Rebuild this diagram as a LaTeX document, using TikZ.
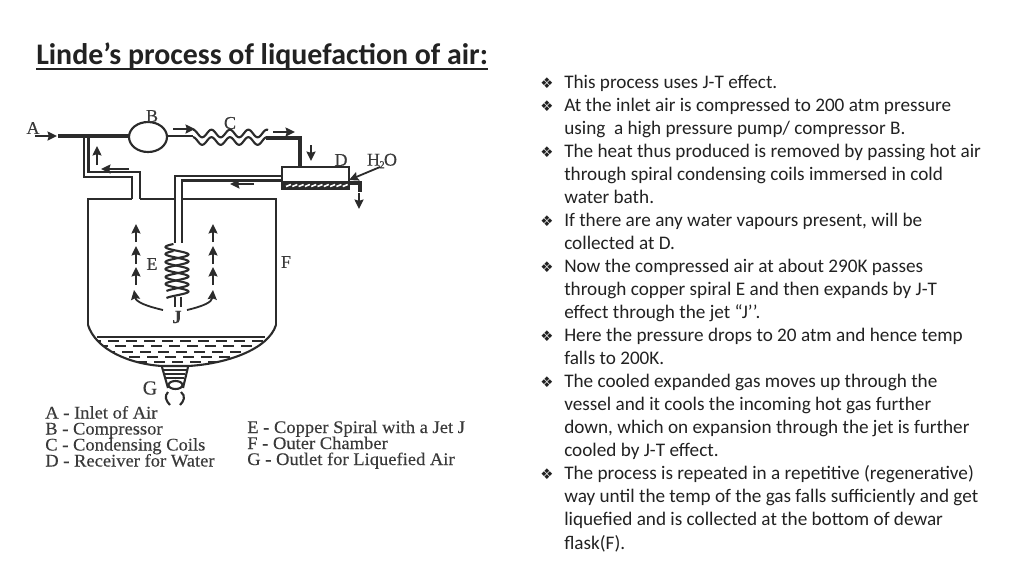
\documentclass[tikz,border=0pt]{standalone}
\usepackage{fontspec}
\setmainfont{Carlito}
\newfontfamily\legendfont[FakeBold=0.3]{Liberation Serif}
\newfontfamily\keyfont[FakeBold=0.3,FakeStretch=1.045]{Liberation Serif}
\newfontfamily\symfont{DejaVu Sans}
\usetikzlibrary{arrows.meta,shapes.geometric}
\definecolor{ink}{HTML}{2B2B2B}
\definecolor{txt}{HTML}{222222}
\definecolor{soft}{HTML}{3A3A3A}
\tikzset{
  pipe/.style={draw=ink,line width=2.1*0.75pt},
  thin pipe/.style={draw=ink,line width=1.6*0.75pt},
  heavy/.style={draw=ink,line width=3.8*0.75pt},
  flow/.style={draw=ink,line width=1.8*0.75pt,-{Stealth[length=9.5pt*0.75,width=9pt*0.75,inset=1pt]}},
  fig/.style={font=\legendfont\fontsize{13.5}{13.5}\selectfont,text=soft,inner sep=0pt},
  legend/.style={font=\keyfont\fontsize{13.3}{13.3}\selectfont,text=soft,inner sep=0pt,anchor=base west},
  body/.style={font=\fontsize{14.4}{14.4}\selectfont,text=txt,inner sep=0pt,anchor=base west},
  bul/.style={font=\symfont\fontsize{11}{11}\selectfont,text=txt,inner sep=0pt,anchor=base west},
}
\begin{document}
\begin{tikzpicture}[x=0.75pt,y=-0.75pt]
\useasboundingbox[fill=white] (0,0) rectangle (1024,576);
% title
\node[font=\bfseries\fontsize{22.4}{22.4}\selectfont,text=txt,inner sep=0pt,anchor=base west] (title) at (36,64) {Linde’s process of liquefaction of air:};
\draw[txt,line width=1.5pt] (36,68.8) -- (487.5,68.8);
% inlet line and compressor
\draw[heavy] (58,136) -- (129,136);
\draw[pipe,line width=2.6*0.75pt] (129,136) -- (193,136);
\node[draw=ink,line width=1.6pt,fill=white,ellipse,minimum width=28.5pt,minimum height=22.5pt,inner sep=0pt] (B) at (148,137) {};
\node[fig] (lA) at (33,128) {A};
\node[fig] (lB) at (152,116) {B};
\node[fig] (lC) at (230,123) {C};
\node[fig] (lD) at (341,160) {D};
\node[fig] (lH) at (382,161) {H\kern-.5pt\raisebox{-2pt}{\fontsize{8}{8}\selectfont 2}\kern-.5pt O};
\node[fig] (lE) at (152,264) {E};
\node[fig] (lF) at (286,262) {F};
\node[fig,font=\legendfont\bfseries\fontsize{14}{14}\selectfont] (lJ) at (177,317) {J};
\node[fig,font=\legendfont\fontsize{15}{15}\selectfont] (lG) at (150,388) {G};
\draw[flow] (35,136) -- (57,136);
\draw[flow] (173,129) -- (195,129);
% return pipe
\draw[pipe] (84,138) -- (84,177) -- (132,177) -- (132,199);
\draw[pipe] (88.5,138) -- (88.5,172) -- (140,172) -- (140,199);
\draw[flow] (97,165) -- (97,146);
\draw[flow] (129,169) -- (101,169);
% chamber
\draw[pipe] (132,199) -- (88,199) -- (88,325);
\draw[pipe] (140,199) -- (175,199);
\draw[pipe] (182,199) -- (276,199) -- (276,325);
\draw[pipe] (88,325) .. controls (96,350) and (130,364) .. (162,366) -- (188,366) .. controls (225,364) and (268,350) .. (276,325);
% feed pipe
\draw[pipe] (282,176) -- (175,176) -- (175,243);
\draw[pipe] (282,180.5) -- (182,180.5) -- (182,243);
\draw[thin pipe] (175,297) -- (175,307);
\draw[thin pipe] (181,297) -- (181,307);
% spiral E
\draw[pipe] plot[domain=0:47,samples=90,smooth] ({177+11.5*sin(\x*24+198)},{244+\x});
\draw[pipe] plot[domain=0:47,samples=90,smooth] ({177+11.5*sin(\x*24+198)},{251+\x});
% coil C
\draw[pipe] plot[domain=0:75,samples=120,smooth] ({193+\x},{133.5-3.8*cos(\x*19.5)});
\draw[pipe] plot[domain=0:75,samples=120,smooth] ({193+\x},{141-3.8*cos(\x*19.5)});
\draw[heavy] (266,138) -- (300,138) -- (300,167);
\draw[flow] (273,132) -- (295,132);
\draw[flow] (311,145) -- (311,161);
% receiver D
\draw[pipe] (282,181) -- (282,167) -- (349,167) -- (349,181);
\fill[ink] (281,181) rectangle (350,190);
\foreach \i in {0,...,9} \draw[white,line width=1.2pt] ({286+\i*6.3},186.5) -- ({291+\i*6.3},184.5);
\draw[heavy] (349,183) -- (360,183) -- (360,192);
\draw[flow] (359,193) -- (359,209);
\draw[flow] (380,167) -- (349,180);
\draw[flow] (254,184) -- (230,184);
% up arrows
\foreach \c in {136,213} \foreach \t in {224,246,267} \draw[flow] (\c,\t+18) -- (\c,\t);
\draw[flow] (163,310) .. controls (146,306) and (136,302) .. (134,290);
\draw[flow] (187,310) .. controls (204,306) and (212,302) .. (213,290);
% liquid
\draw[pipe] (97,337) -- (265,337);
\begin{scope}
\clip (88,325) .. controls (96,350) and (130,364) .. (162,366) -- (188,366) .. controls (225,364) and (268,350) .. (276,325) -- cycle;
\foreach \y/\o in {341/0,346/8,351.5/3,357/11,362/6}
  \draw[ink,line width=1.5pt,dash pattern=on 11pt*0.75 off 7pt*0.75,dash phase=\o pt] (90,\y) -- (272,\y);
\end{scope}
% neck G
\draw[pipe] (162,367) -- (168,388) (188,367) -- (183,388);
\foreach \y/\a/\b in {370/163/187,374/165/185,378/166/184}
  \draw[ink,line width=1.3pt] (\a,\y) -- (\b,\y);
\draw[pipe] (175.5,385) ellipse (7 and 4);
\draw[pipe] (168,392) .. controls (164,396) and (166,401) .. (170,405);
\draw[pipe] (181,392) .. controls (186,396) and (184,401) .. (180,405);
% legend
\node[legend] (k1) at (45,418.5) {A - Inlet of Air};
\node[legend] (k2) at (45,434.5) {B - Compressor};
\node[legend] (k3) at (45,450.5) {C - Condensing Coils};
\node[legend] (k4) at (45,466.5) {D - Receiver for Water};
\node[legend] (k5) at (247,433) {E - Copper Spiral with a Jet J};
\node[legend] (k6) at (247,449) {F - Outer Chamber};
\node[legend] (k7) at (247,465) {G - Outlet for Liquefied Air};
% bullets
\foreach \n/\y in {1/88,2/111,3/157,4/226,5/272,6/341,7/387,8/479}
  \node[bul] (b\n) at (540,\y) {❖};
% body
\node[body] (t1) at (564,88) {This process uses J-T effect.};
\node[body] (t2) at (564,111) {At the inlet air is compressed to 200 atm pressure};
\node[body] (t3) at (564,134) {using\ \ a high pressure pump/ compressor B.};
\node[body] (t4) at (564,157) {The heat thus produced is removed by passing hot air};
\node[body] (t5) at (564,180) {through spiral condensing coils immersed in cold};
\node[body] (t6) at (564,203) {water bath.};
\node[body] (t7) at (564,226) {If there are any water vapours present, will be};
\node[body] (t8) at (564,249) {collected at D.};
\node[body] (t9) at (564,272) {Now the compressed air at about 290K passes};
\node[body] (t10) at (564,295) {through copper spiral E and then expands by J-T};
\node[body] (t11) at (564,318) {effect through the jet “J’’.};
\node[body] (t12) at (564,341) {Here the pressure drops to 20 atm and hence temp};
\node[body] (t13) at (564,364) {falls to 200K.};
\node[body] (t14) at (564,387) {The cooled expanded gas moves up through the};
\node[body] (t15) at (564,410) {vessel and it cools the incoming hot gas further};
\node[body] (t16) at (564,433) {down, which on expansion through the jet is further};
\node[body] (t17) at (564,456) {cooled by J-T effect.};
\node[body] (t18) at (564,479) {The process is repeated in a repetitive (regenerative)};
\node[body] (t19) at (564,502) {way until the temp of the gas falls sufficiently and get};
\node[body] (t20) at (564,525) {liquefied and is collected at the bottom of dewar};
\node[body] (t21) at (564,549) {flask(F).};
\end{tikzpicture}
\end{document}
